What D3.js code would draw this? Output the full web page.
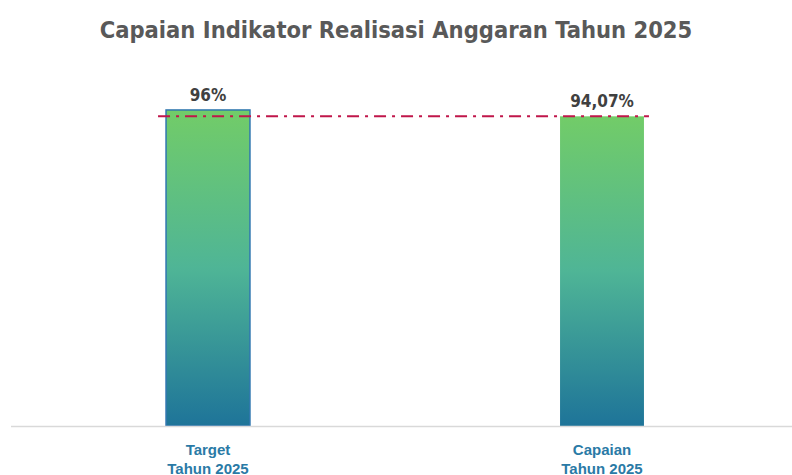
<!DOCTYPE html>
<html>
<head>
<meta charset="utf-8">
<script src="https://cdn.jsdelivr.net/npm/d3@7"></script>
<style>
  body { margin: 0; background: #fff; }
  text { font-family: "Liberation Sans Narrow", "DejaVu Sans Condensed", sans-serif; }
</style>
</head>
<body>
<div id="my_dataviz"></div>
<script>
const width = 792, height = 475;
const baseY = 426;

const data = [
  {label: ["Target", "Tahun 2025"], value: 96, text: "96%", outline: true},
  {label: ["Capaian", "Tahun 2025"], value: 94.07, text: "94,07%", outline: false}
];

const svg = d3.select("#my_dataviz")
  .append("svg")
    .attr("width", width)
    .attr("height", height);

// gradient for bars
const grad = svg.append("defs").append("linearGradient")
  .attr("id", "barGrad")
  .attr("x1", 0).attr("y1", 0).attr("x2", 0).attr("y2", 1);
grad.append("stop").attr("offset", "0%").attr("stop-color", "#72cc68");
grad.append("stop").attr("offset", "50%").attr("stop-color", "#4fb596");
grad.append("stop").attr("offset", "100%").attr("stop-color", "#1e7499");

const x = d3.scaleBand()
  .domain(data.map(d => d.label[0]))
  .range([11, 799])
  .paddingInner(0.787)
  .paddingOuter(0.3935);

const y = d3.scaleLinear()
  .domain([0, 100])
  .range([baseY, baseY - 329.2]);

// title
svg.append("text")
  .attr("x", width / 2)
  .attr("y", 38)
  .attr("text-anchor", "middle")
  .style("font-size", "23.5px")
  .style("font-weight", "bold")
  .style("fill", "#595959")
  .text("Capaian Indikator Realisasi Anggaran Tahun 2025");

// bars
svg.selectAll(".bar")
  .data(data)
  .enter()
  .append("rect")
    .attr("x", d => x(d.label[0]))
    .attr("y", d => y(d.value))
    .attr("width", x.bandwidth())
    .attr("height", d => y(0) - y(d.value))
    .style("fill", "url(#barGrad)")
    .style("stroke", d => d.outline ? "#2f76b0" : "none")
    .style("stroke-width", 1.5);

// axis line
svg.append("line")
  .attr("x1", 11).attr("x2", width)
  .attr("y1", baseY + 0.5).attr("y2", baseY + 0.5)
  .style("stroke", "#d9d9d9")
  .style("stroke-width", 1.5);

// reference line at capaian value
const capaian = data[1].value;
svg.append("line")
  .attr("x1", x("Target") - 8)
  .attr("x2", x("Capaian") + x.bandwidth() + 5)
  .attr("y1", y(capaian))
  .attr("y2", y(capaian))
  .style("stroke", "#c0164a")
  .style("stroke-width", 2)
  .style("stroke-dasharray", "12,6,3,6");

// value labels
svg.selectAll(".val")
  .data(data)
  .enter()
  .append("text")
    .attr("x", d => x(d.label[0]) + x.bandwidth() / 2)
    .attr("y", d => y(d.value) - 9)
    .attr("text-anchor", "middle")
    .style("font-size", "17px")
    .style("font-weight", "bold")
    .style("fill", "#404040")
    .text(d => d.text);

// category labels
const cat = svg.selectAll(".cat")
  .data(data)
  .enter()
  .append("text")
    .attr("text-anchor", "middle")
    .style("font-family", "'Liberation Sans', Arial, sans-serif")
    .style("font-size", "15px")
    .style("font-weight", "bold")
    .style("fill", "#2a7aa6");
cat.each(function(d) {
  const t = d3.select(this);
  d.label.forEach((s, i) => {
    t.append("tspan")
      .attr("x", x(d.label[0]) + x.bandwidth() / 2)
      .attr("y", 455 + i * 19)
      .text(s);
  });
});
</script>
</body>
</html>
